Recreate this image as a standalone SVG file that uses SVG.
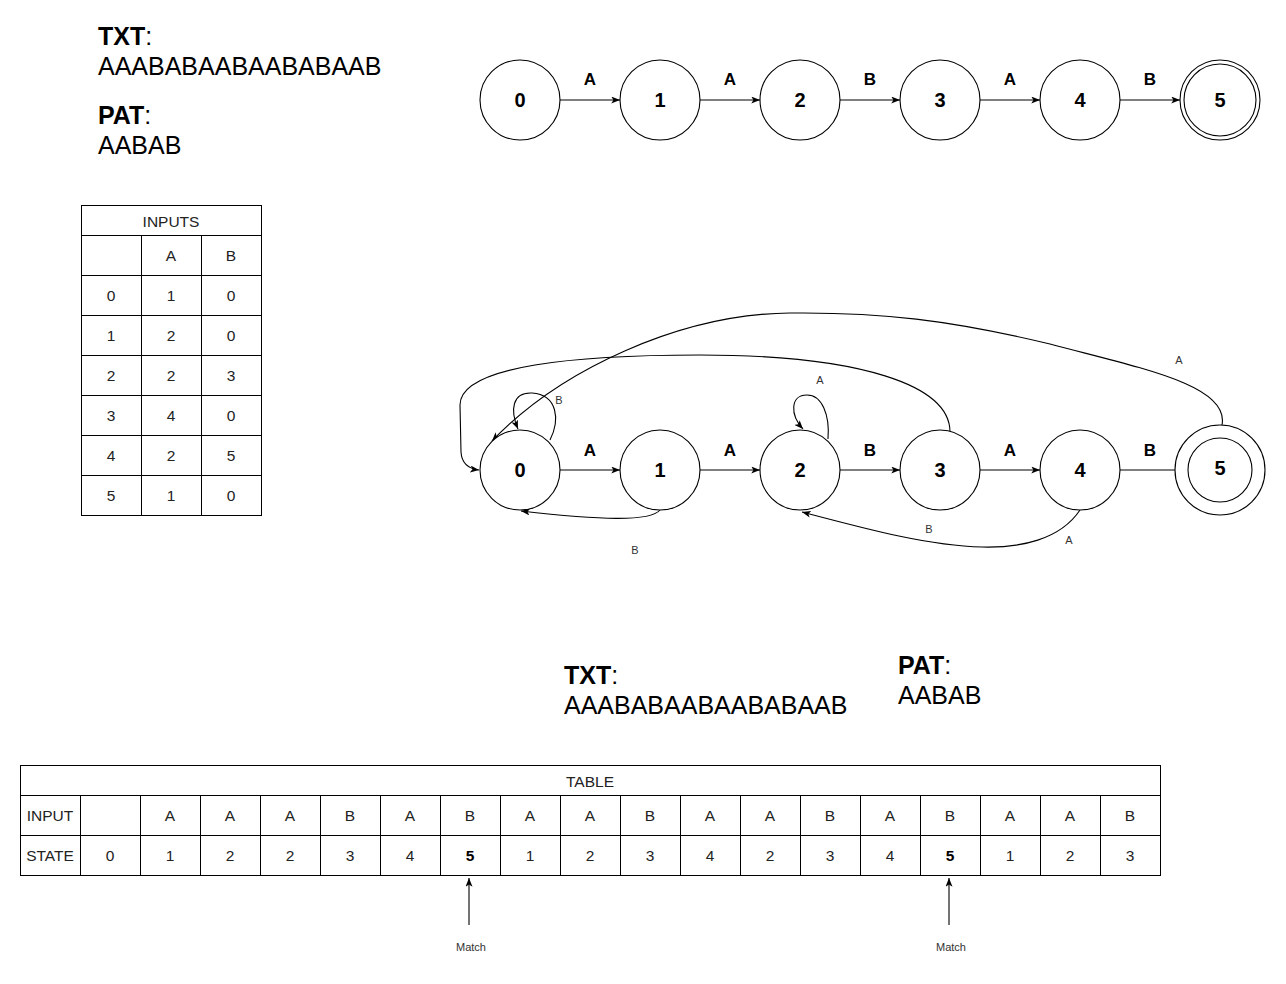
<svg xmlns="http://www.w3.org/2000/svg" width="1286" height="984" viewBox="0 0 1286 984">
<style>
.n{fill:#fff;stroke:#000;stroke-width:1.1}
.nl{font:bold 20px "Liberation Sans",Arial,sans-serif;text-anchor:middle;dominant-baseline:central}
.el{font:bold 17px "Liberation Sans",Arial,sans-serif;text-anchor:middle;dominant-baseline:central}
.sl{font:11px "Liberation Sans",Arial,sans-serif;text-anchor:middle;dominant-baseline:central;fill:#333}
.c{fill:none;stroke:#000;stroke-width:1.1}
.t{font:15.5px "Liberation Sans",Arial,sans-serif;text-anchor:middle;dominant-baseline:central;fill:#222}
.tb{font-weight:bold;fill:#000}
.g{fill:none;stroke:#000;stroke-width:1}
.big{font:25px "Liberation Sans",Arial,sans-serif}
</style>
<defs>
<marker id="arr" viewBox="0 0 10 8" refX="10" refY="4" markerWidth="9" markerHeight="7" orient="auto" markerUnits="userSpaceOnUse"><path d="M0,0 L10,4 L0,8 L2.5,4 z" fill="#000"/></marker>
</defs>
<rect width="1286" height="984" fill="#fff"/>

<g id="txt-top">
<text class="big" x="98" y="45"><tspan font-weight="bold">TXT</tspan>:</text>
<text class="big" x="98" y="75">AAABABAABAABABAAB</text>
<text class="big" x="98" y="124"><tspan font-weight="bold">PAT</tspan>:</text>
<text class="big" x="98" y="154">AABAB</text>
</g>

<g id="txt-bottom">
<text class="big" x="564" y="684"><tspan font-weight="bold">TXT</tspan>:</text>
<text class="big" x="564" y="714">AAABABAABAABABAAB</text>
<text class="big" x="898" y="674"><tspan font-weight="bold">PAT</tspan>:</text>
<text class="big" x="898" y="704">AABAB</text>
</g>

<g id="inputs-table">
<rect class="g" x="81.5" y="205.5" width="180" height="310"/>
<path class="g" d="M81.5,235.5H261.5M81.5,275.5H261.5M81.5,315.5H261.5M81.5,355.5H261.5M81.5,395.5H261.5M81.5,435.5H261.5M81.5,475.5H261.5M141.5,235.5V515.5M201.5,235.5V515.5"/>
<text class="t" x="171" y="221">INPUTS</text>
<text class="t" x="171" y="255">A</text><text class="t" x="231" y="255">B</text>
<text class="t" x="111" y="295">0</text><text class="t" x="171" y="295">1</text><text class="t" x="231" y="295">0</text>
<text class="t" x="111" y="335">1</text><text class="t" x="171" y="335">2</text><text class="t" x="231" y="335">0</text>
<text class="t" x="111" y="375">2</text><text class="t" x="171" y="375">2</text><text class="t" x="231" y="375">3</text>
<text class="t" x="111" y="415">3</text><text class="t" x="171" y="415">4</text><text class="t" x="231" y="415">0</text>
<text class="t" x="111" y="455">4</text><text class="t" x="171" y="455">2</text><text class="t" x="231" y="455">5</text>
<text class="t" x="111" y="495">5</text><text class="t" x="171" y="495">1</text><text class="t" x="231" y="495">0</text>
</g>

<g id="connectors">
<path class="c" d="M560,100H620" marker-end="url(#arr)"/>
<path class="c" d="M700,100H760" marker-end="url(#arr)"/>
<path class="c" d="M840,100H900" marker-end="url(#arr)"/>
<path class="c" d="M980,100H1040" marker-end="url(#arr)"/>
<path class="c" d="M1120,100H1180" marker-end="url(#arr)"/>
<path class="c" d="M560,470H620" marker-end="url(#arr)"/>
<path class="c" d="M700,470H760" marker-end="url(#arr)"/>
<path class="c" d="M840,470H900" marker-end="url(#arr)"/>
<path class="c" d="M980,470H1040" marker-end="url(#arr)"/>
<path class="c" d="M1120,470H1188" marker-end="url(#arr)"/>
<path class="c" d="M550,440C560,420 558,395 532,393C512,392 510,410 518,429" marker-end="url(#arr)"/>
<path class="c" d="M828,439C830,415 822,395 807,395C790,395 790,415 803,429" marker-end="url(#arr)"/>
<path class="c" d="M950,432C950,385 860,355 700,355C580,355 460,365 460,405L461,452Q462,468 479,470" marker-end="url(#arr)"/>
<path class="c" d="M1222,425C1230,385 1140,368 1050,344C950,320 880,312 790,313C680,314 560,370 492,441" marker-end="url(#arr)"/>
<path class="c" d="M660,510C650,522 600,520 521,511" marker-end="url(#arr)"/>
<path class="c" d="M1080,510C1060,540 1020,548 982,547C930,546 870,530 802,512" marker-end="url(#arr)"/>
<path class="c" d="M469,925V878" marker-end="url(#arr)"/>
<path class="c" d="M949,925V878" marker-end="url(#arr)"/>
</g>

<g id="edge-labels">
<text class="el" x="590" y="79">A</text>
<text class="el" x="730" y="79">A</text>
<text class="el" x="870" y="79">B</text>
<text class="el" x="1010" y="79">A</text>
<text class="el" x="1150" y="79">B</text>
<text class="el" x="590" y="450">A</text>
<text class="el" x="730" y="450">A</text>
<text class="el" x="870" y="450">B</text>
<text class="el" x="1010" y="450">A</text>
<text class="el" x="1150" y="450">B</text>
<text class="sl" x="559" y="400">B</text>
<text class="sl" x="820" y="380">A</text>
<text class="sl" x="1179" y="360">A</text>
<text class="sl" x="635" y="550">B</text>
<text class="sl" x="929" y="529">B</text>
<text class="sl" x="1069" y="540">A</text>
<text class="sl" x="471" y="947">Match</text>
<text class="sl" x="951" y="947">Match</text>
</g>

<g id="t0"><circle class="n" cx="520" cy="100" r="40"/><text class="nl" x="520" y="100">0</text></g>
<g id="t1"><circle class="n" cx="660" cy="100" r="40"/><text class="nl" x="660" y="100">1</text></g>
<g id="t2"><circle class="n" cx="800" cy="100" r="40"/><text class="nl" x="800" y="100">2</text></g>
<g id="t3"><circle class="n" cx="940" cy="100" r="40"/><text class="nl" x="940" y="100">3</text></g>
<g id="t4"><circle class="n" cx="1080" cy="100" r="40"/><text class="nl" x="1080" y="100">4</text></g>
<g id="t5"><circle class="n" cx="1220" cy="100" r="40"/><circle class="n" cx="1220" cy="100" r="36"/><text class="nl" x="1220" y="100">5</text></g>

<g id="b0"><circle class="n" cx="520" cy="470" r="40"/><text class="nl" x="520" y="470">0</text></g>
<g id="b1"><circle class="n" cx="660" cy="470" r="40"/><text class="nl" x="660" y="470">1</text></g>
<g id="b2"><circle class="n" cx="800" cy="470" r="40"/><text class="nl" x="800" y="470">2</text></g>
<g id="b3"><circle class="n" cx="940" cy="470" r="40"/><text class="nl" x="940" y="470">3</text></g>
<g id="b4"><circle class="n" cx="1080" cy="470" r="40"/><text class="nl" x="1080" y="470">4</text></g>
<g id="b5"><circle class="n" cx="1220" cy="470" r="45"/><circle class="n" cx="1220" cy="470" r="32"/><text class="nl" x="1220" y="468">5</text></g>

<g id="state-table">
<rect class="g" x="20.5" y="765.5" width="1140" height="110"/>
<path class="g" d="M20.5,795.5H1160.5M20.5,835.5H1160.5M80.5,795.5V875.5M140.5,795.5V875.5M200.5,795.5V875.5M260.5,795.5V875.5M320.5,795.5V875.5M380.5,795.5V875.5M440.5,795.5V875.5M500.5,795.5V875.5M560.5,795.5V875.5M620.5,795.5V875.5M680.5,795.5V875.5M740.5,795.5V875.5M800.5,795.5V875.5M860.5,795.5V875.5M920.5,795.5V875.5M980.5,795.5V875.5M1040.5,795.5V875.5M1100.5,795.5V875.5"/>
<text class="t" x="590" y="781">TABLE</text>
<text class="t" x="50" y="815">INPUT</text>
<text class="t" x="170" y="815">A</text><text class="t" x="230" y="815">A</text><text class="t" x="290" y="815">A</text><text class="t" x="350" y="815">B</text><text class="t" x="410" y="815">A</text><text class="t" x="470" y="815">B</text><text class="t" x="530" y="815">A</text><text class="t" x="590" y="815">A</text><text class="t" x="650" y="815">B</text><text class="t" x="710" y="815">A</text><text class="t" x="770" y="815">A</text><text class="t" x="830" y="815">B</text><text class="t" x="890" y="815">A</text><text class="t" x="950" y="815">B</text><text class="t" x="1010" y="815">A</text><text class="t" x="1070" y="815">A</text><text class="t" x="1130" y="815">B</text>
<text class="t" x="50" y="855">STATE</text>
<text class="t" x="110" y="855">0</text><text class="t" x="170" y="855">1</text><text class="t" x="230" y="855">2</text><text class="t" x="290" y="855">2</text><text class="t" x="350" y="855">3</text><text class="t" x="410" y="855">4</text><text class="t tb" x="470" y="855">5</text><text class="t" x="530" y="855">1</text><text class="t" x="590" y="855">2</text><text class="t" x="650" y="855">3</text><text class="t" x="710" y="855">4</text><text class="t" x="770" y="855">2</text><text class="t" x="830" y="855">3</text><text class="t" x="890" y="855">4</text><text class="t tb" x="950" y="855">5</text><text class="t" x="1010" y="855">1</text><text class="t" x="1070" y="855">2</text><text class="t" x="1130" y="855">3</text>
</g>
</svg>
